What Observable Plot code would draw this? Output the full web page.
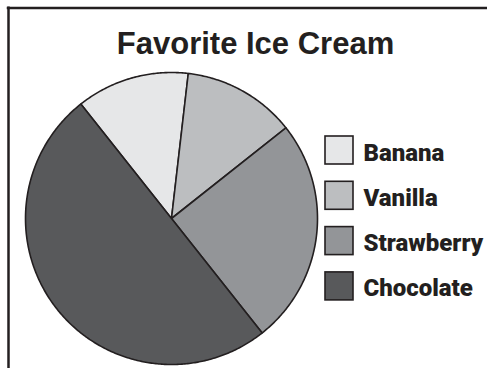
<!DOCTYPE html>
<html>
<head>
<meta charset="utf-8">
<script src="https://cdn.jsdelivr.net/npm/d3@7"></script>
<script src="https://cdn.jsdelivr.net/npm/@observablehq/plot@0.6"></script>
<style>
  html, body { margin: 0; padding: 0; background: #fff; }
  svg { display: block; }
</style>
</head>
<body>
<div id="chart"></div>
<script>
// ---- Data ----
const title = "Favorite Ice Cream";
const flavors = ["Banana", "Vanilla", "Strawberry", "Chocolate"];
const shares = [12.5, 12.5, 25, 50];
const colors = ["#e6e7e8", "#bcbec0", "#939598", "#58595b"];

// ---- Layout ----
const W = 487, H = 368;
const cx = 171, cy = 218, R = 146;
const startDeg = -38.4;
const ink = "#231f20";

const data = flavors.map((f, i) => ({flavor: f, value: shares[i]}));
const arcs = d3.pie().value(d => d.value).sort(null)
  .startAngle(startDeg * Math.PI / 180)
  .endAngle(startDeg * Math.PI / 180 + 2 * Math.PI)(data);

const pts = [];
for (const a of arcs) {
  const f = a.data.flavor;
  pts.push({flavor: f, x: cx, y: cy});
  const n = Math.max(2, Math.ceil((a.endAngle - a.startAngle) / 0.01));
  for (let k = 0; k <= n; k++) {
    const t = a.startAngle + (a.endAngle - a.startAngle) * k / n;
    pts.push({flavor: f, x: cx + R * Math.sin(t), y: cy - R * Math.cos(t)});
  }
  pts.push({flavor: f, x: cx, y: cy});
}

// legend layout derived from index
const legX = 325, legSize = 28, legTop = 136, legStep = 45.3;
const legend = flavors.map((f, i) => ({
  flavor: f,
  x1: legX, x2: legX + legSize,
  y1: legTop + i * legStep, y2: legTop + i * legStep + legSize,
  tx: legX + legSize + 10, ty: legTop + i * legStep + legSize - 4
}));

const chart = Plot.plot({
  width: W, height: H,
  margin: 0,
  x: {domain: [0, W], range: [0, W], axis: null},
  y: {domain: [0, H], range: [0, H], axis: null},
  color: {domain: flavors, range: colors},
  marks: [
    Plot.line(pts, {x: "x", y: "y", z: "flavor", fill: "flavor", stroke: ink, strokeWidth: 1.6, strokeLinejoin: "round"}),
    Plot.rect(legend, {x1: "x1", x2: "x2", y1: "y1", y2: "y2", fill: "flavor", stroke: ink, strokeWidth: 1.6}),
    Plot.text(legend, {x: "tx", y: "ty", text: "flavor", textAnchor: "start", lineAnchor: "bottom",
      fontFamily: "Roboto", fontWeight: 900, fontSize: 24, fill: ink}),
    Plot.text([title], {x: 255, y: 53, text: d => d, textAnchor: "middle", lineAnchor: "bottom",
      fontFamily: "Liberation Sans, Arial, sans-serif", fontWeight: "bold", fontSize: 31, fill: ink}),
    Plot.ruleX([8], {y1: 6.5, y2: H, stroke: ink, strokeWidth: 2.5}),
    Plot.ruleY([7.5], {x1: 6.75, x2: W, stroke: ink, strokeWidth: 2.5})
  ]
});
document.getElementById("chart").appendChild(chart);
</script>
</body>
</html>
